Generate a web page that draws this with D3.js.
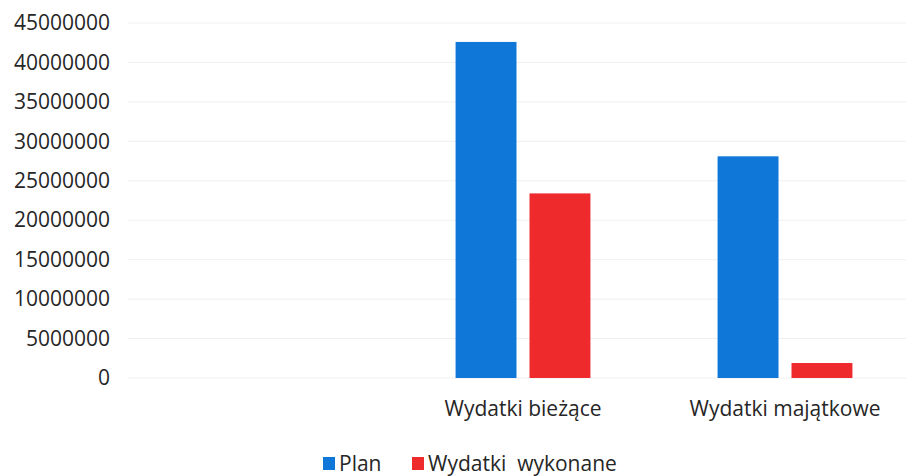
<!DOCTYPE html>
<html lang="pl">
<head>
    <meta charset="utf-8">
    <script src="https://d3js.org/d3.v7.min.js"></script>
    <style>
        body { margin: 0; background: #fff; }
        text { font-family: "Open Sans", sans-serif; fill: #262626; }
    </style>
</head>
<body>
    <svg width="906" height="476"></svg>
    <script>
        const categories = ["", "Wydatki bieżące", "Wydatki majątkowe"];
        const seriesNames = ["Plan", "Wydatki  wykonane"];
        const planValues = [null, 42600000, 28100000];
        const doneValues = [null, 23400000, 1900000];
        const yTicks = [0, 5000000, 10000000, 15000000, 20000000, 25000000, 30000000, 35000000, 40000000, 45000000];
        const colors = ["#0f77d8", "#ee2a2d"];

        const svg = d3.select("svg");
        const plotTop = 23, plotBottom = 378;

        const x = d3.scaleBand().domain(categories).range([130, 916]);
        const xs = d3.scaleBand().domain(seriesNames).range([0, x.bandwidth()]).paddingInner(0.176).paddingOuter(0.86);
        const y = d3.scaleLinear().domain([0, 45000000]).range([plotBottom, plotTop]);

        // grid lines
        svg.append("g")
            .selectAll("line")
            .data(yTicks)
            .join("line")
            .attr("x1", 128).attr("x2", 906)
            .attr("y1", d => y(d)).attr("y2", d => y(d))
            .attr("stroke", "#efefef")
            .attr("stroke-width", 1);

        // y axis labels
        const yAxis = svg.append("g")
            .attr("transform", "translate(110,0)")
            .call(d3.axisLeft(y).tickValues(yTicks).tickSize(0).tickPadding(0).tickFormat(d3.format("d")));
        yAxis.select(".domain").remove();
        yAxis.selectAll("text").style("font-size", "21px").style("font-family", "'Open Sans', sans-serif").attr("fill", "#262626");

        // bars
        const rows = categories.map((c, i) => ({cat: c, vals: [planValues[i], doneValues[i]]}));
        svg.append("g")
            .selectAll("g")
            .data(rows.filter(r => r.vals[0] !== null))
            .join("g")
            .attr("transform", d => `translate(${x(d.cat)},0)`)
            .selectAll("rect")
            .data(d => d.vals.map((v, j) => ({name: seriesNames[j], v: v, j: j})))
            .join("rect")
            .attr("x", d => xs(d.name))
            .attr("width", xs.bandwidth())
            .attr("y", d => y(d.v))
            .attr("height", d => y(0) - y(d.v))
            .attr("fill", d => colors[d.j]);

        // x axis labels
        const xAxis = svg.append("g")
            .attr("transform", `translate(0,${plotBottom})`)
            .call(d3.axisBottom(x).tickSize(0).tickPadding(23));
        xAxis.select(".domain").remove();
        xAxis.selectAll("text").style("font-size", "21px").style("font-family", "'Open Sans', sans-serif").attr("fill", "#262626");

        // legend
        const legendX = [323, 412];
        const legend = svg.append("g")
            .selectAll("g")
            .data(seriesNames)
            .join("g")
            .attr("transform", (d, i) => `translate(${legendX[i]},457)`);
        legend.append("rect")
            .attr("width", 12).attr("height", 13)
            .attr("fill", (d, i) => colors[i]);
        legend.append("text")
            .attr("x", 16).attr("y", 14)
            .style("font-size", "21px")
            .style("white-space", "pre")
            .text(d => d);
    </script>
</body>
</html>
